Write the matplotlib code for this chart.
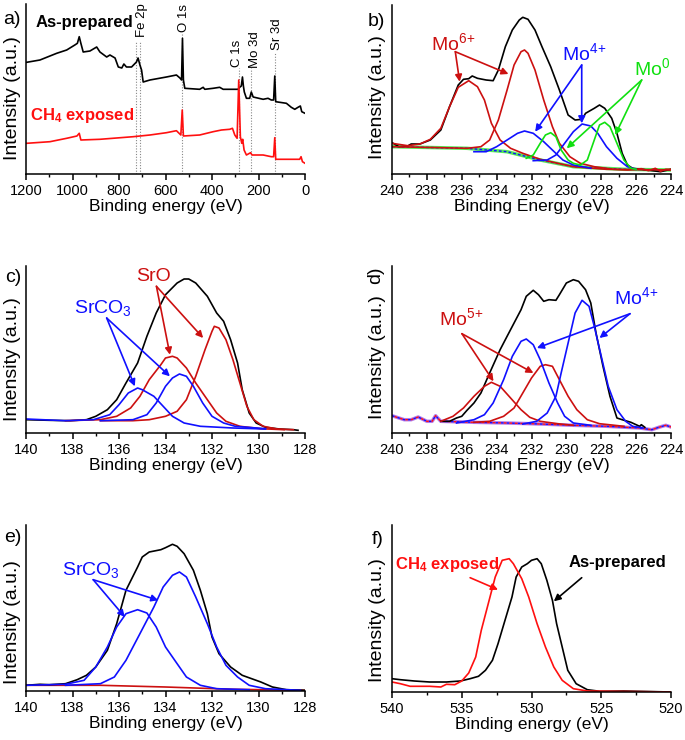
import matplotlib
matplotlib.use("Agg")
import matplotlib.pyplot as plt
from matplotlib.ticker import MultipleLocator

plt.rcParams['font.family'] = ['Liberation Sans', 'DejaVu Sans']
plt.rcParams['mathtext.fontset'] = 'custom'
plt.rcParams['mathtext.rm'] = 'Liberation Sans'
plt.rcParams['mathtext.it'] = 'Liberation Sans:italic'
plt.rcParams['mathtext.bf'] = 'Liberation Sans:bold'
plt.rcParams['mathtext.default'] = 'regular'

# ---------------- DATA ----------------
# a) survey spectra
a_be_black = [1197, 1140, 1068, 1025, 990, 979, 971, 964, 954, 925, 896, 882, 853, 839, 817, 803, 788, 779, 768, 746,
              725, 718, 710, 703, 696, 667, 596, 553, 538, 531, 527, 523, 517, 453, 438, 431, 395, 367, 352, 309, 288,
              281, 274, 269, 265, 261, 252, 238, 231, 223, 180, 159, 145, 135, 130, 126, 80, 59, 44, 30, 20, 14, 0]
a_int_black = [111.7, 114, 120.7, 124, 129, 130.7, 137.3, 130.7, 122, 123, 127, 122, 117, 119, 116, 107, 106, 110, 107, 107,
               112, 116, 109, 104, 92, 94, 97, 99, 96, 94, 135.7, 94, 85.7, 84.7, 86.7, 84.7, 85.7, 86.7, 84.7, 84.7, 84.7,
               86.7, 88, 97, 88, 82, 75.7, 75.7, 82, 77, 74.7, 75.7, 74, 74, 98, 72.3, 70.7, 66.7, 64.7, 66.7, 68, 62.3, 60.7]
a_be_red = [1197, 1097, 1025, 981, 971, 964, 882, 739, 667, 596, 553, 534, 528, 523, 453, 395, 359, 324, 312, 302, 292,
            285, 278, 272, 268, 262, 252, 234, 228, 180, 145, 135, 130, 126, 66, 23, 17, 11, 0]
a_int_red = [30.7, 32.3, 35.7, 38, 40.7, 34, 34.7, 37.3, 39, 41.3, 43.3, 39, 64, 38, 39, 42.3, 44, 44.7, 45.7, 39, 35.7,
             94, 37.3, 30.7, 34.7, 24, 19, 21.3, 19, 19, 17.3, 17.3, 36.3, 14.7, 14.7, 14.7, 17.3, 12.3, 10.7]
a_peak_names = ['Fe 2p', 'O 1s', 'C 1s', 'Mo 3d', 'Sr 3d']
a_peak_label_be = [703, 521, 292, 216, 120]
a_line_be = [725, 710, 527, 284, 231, 130]
a_line_top = [132, 132, 140.7, 105.7, 105.7, 122.3]

# b) Mo 3d, as-prepared
b_be_black = [240, 239.6, 239.1, 238.9, 238.4, 237.8, 237.2, 236.7, 236.2, 235.9, 235.6, 235.4, 235.1, 234.6, 234.2,
              233.9, 233.5, 233.1, 232.7, 232.5, 232.2, 231.8, 231.4, 230.9, 230.4, 229.9, 229.5, 229.1, 228.9, 228.4,
              228.1, 227.8, 227.4, 227.1, 226.8, 226.5, 226.2, 225.4, 224.6, 224]
b_int_black = [31.3, 27.3, 28, 30, 30, 34, 44, 67.3, 89, 94.7, 95.3, 98, 95.7, 94, 93.3,
               104, 127.3, 144, 154, 156.7, 154.7, 144, 127.3, 107.3, 84, 59, 54, 54.7, 60.7, 65.7,
               69, 65.7, 55.7, 40.7, 20.7, 9, 5.7, 4, 2.3, 4.7]
b_be_base = [240, 235.7, 233.4, 231.5, 229.6, 226.7, 224]
b_int_base = [27.3, 25.7, 22.3, 14, 7.3, 4.7, 4]
b_be_mo6a = [240, 239.1, 238.4, 237.8, 237.2, 236.7, 236.2, 235.6, 235.1, 234.7, 234.3, 233.8, 233.2, 232.5, 231.5,
             230.5, 229.6, 227.7, 224]
b_int_mo6a = [30.7, 28.3, 30, 34.7, 45.7, 67.3, 86.7, 93.3, 87.3, 74, 50.7, 34, 25.7, 20.7, 14.7,
              10.7, 7.3, 4.7, 4]
b_be_mo6b = [240, 237.2, 235.7, 234.9, 234.4, 233.9, 233.4, 233.0, 232.6, 232.4, 232.2, 231.8, 231.3, 230.8, 230.4,
             229.8, 229.2, 228.4, 227.3, 226.5, 225.7, 225.3, 224.9, 224.6, 224.3, 224]
b_int_mo6b = [27.3, 26.3, 25.7, 27.3, 34, 54, 84, 109, 122.3, 124, 120.7, 104, 74, 47.3, 30.7,
              17.3, 10.7, 7.3, 4.7, 4, 5.3, 3.3, 5.7, 2.7, 4.7, 4.7]
b_be_mo4a = [235.3, 234.6, 234.0, 233.4, 232.8, 232.4, 231.9, 231.3, 230.7, 230.2, 229.6, 228.6]
b_int_mo4a = [22.3, 22.3, 27.3, 34, 40.7, 43, 40.7, 32.3, 22.3, 14, 9, 5.7]
b_be_mo4b = [231.9, 231.1, 230.6, 230.1, 229.6, 229.1, 228.6, 228.2, 227.7, 227.1, 226.5, 226.0]
b_int_mo4b = [13.3, 14, 19, 30.7, 42.3, 50, 48, 40.7, 27.3, 15.7, 7.3, 4.7]
b_be_mo0a = [232.3, 231.9, 231.5, 231.2, 230.9, 230.6, 230.3, 229.9, 229.6, 229.2]
b_int_mo0a = [15.7, 19, 30.7, 39, 41.3, 37.3, 24, 14, 10.7, 9]
b_be_mo0b = [229.2, 228.8, 228.4, 228.1, 227.8, 227.5, 227.1, 226.7, 226.3, 226.0]
b_int_mo0b = [9, 14, 34, 49, 51.7, 47.3, 30.7, 14, 5.7, 4.7]

# c) Sr 3d, as-prepared
c_be_black = [140, 139, 138.1, 137.4, 137.0, 136.5, 136.1, 135.7, 135.2, 134.8, 134.4, 134.0, 133.5, 133.2, 133.0,
              132.7, 132.2, 131.8, 131.5, 131.2, 130.9, 130.7, 130.4, 130.1, 129.7, 129.1, 128.5, 128.3]
c_int_black = [13.3, 12.7, 12.3, 13.3, 16.7, 23.3, 33.3, 50, 70, 96.7, 120, 138.3, 150, 154, 154,
               150, 136.7, 120, 111.7, 93.3, 70, 43.3, 20, 10, 5.7, 4, 3.3, 2.7]
c_be_sro1 = [136.8, 135.4, 134.7, 134.0, 133.5, 133.1, 132.7, 132.3, 132.0, 131.9, 131.7, 131.4, 131.1, 130.8, 130.5,
             130.2, 129.8, 129.2, 128.5]
c_int_sro1 = [12.3, 12.3, 13.3, 16.7, 21.7, 33.3, 56.7, 83.3, 101.7, 106.7, 105, 93.3, 73.3, 50, 26.7,
              13.3, 6.7, 4, 3.3]
c_be_sro2 = [138.3, 136.8, 136.1, 135.5, 135.1, 134.7, 134.2, 134.0, 133.7, 133.5, 133.1, 132.7, 132.2, 131.8, 131.4,
             130.8, 129.9, 128.9]
c_int_sro2 = [12.3, 13.3, 16.7, 25, 36.7, 53.3, 68.3, 75, 76.7, 75, 65, 50, 33.3, 20, 11.7,
              6.7, 4.3, 3.3]
c_be_co1 = [140, 138.3, 137.1, 136.4, 136.0, 135.6, 135.2, 135.0, 134.5, 134.1, 133.7, 133.2, 132.5, 131.1, 129.7]
c_int_co1 = [14, 12.3, 13.3, 18.3, 28.3, 40, 45, 43.3, 36.7, 26.7, 16.7, 10, 6.7, 5, 4]
c_be_co2 = [136.8, 135.4, 134.8, 134.4, 134.0, 133.7, 133.4, 133.1, 132.8, 132.4, 132.0, 131.5, 131.0, 129.7]
c_int_co2 = [12.3, 13.3, 18.3, 30, 46.7, 55, 59, 56.7, 46.7, 30, 16.7, 10, 6.7, 4.3]

# d) Mo 3d, CH4 exposed
d_be_black = [237.2, 236.7, 236.3, 236.0, 235.7, 235.3, 234.9, 234.4, 233.8, 233.4, 233.0, 232.6, 232.3, 231.9, 231.6,
              231.3, 231.0, 230.6, 230.4, 230.0, 229.6, 229.3, 228.9, 228.6, 228.3, 227.9, 227.5, 227.1, 226.8, 226.3,
              225.8, 225.7, 225.5]
d_int_black = [11.7, 11.7, 15, 16.7, 22.7, 30, 40, 60, 83.3, 96.7, 110, 123.3, 136.7, 142.7, 138.3,
               131.7, 133.3, 132.7, 138.3, 150, 153.3, 151.7, 143.3, 130, 100, 66.7, 36.7, 15, 13.3, 10.7,
               6.7, 8.3, 5.7]
d_be_base = [240, 239.6, 239.3, 238.9, 238.5, 238.0, 237.7, 237.5, 237.2, 235.3, 233.4, 231.5, 229.6, 227.7, 225.8,
             225.1, 224.7, 224.3, 224]
d_int_base = [17.3, 15, 13.3, 13.3, 16, 11.7, 11.7, 17.3, 11.7, 10.7, 10, 9, 7.7, 6.7, 5,
              3.3, 5.7, 7.7, 6]
d_be_mo5a = [237.2, 236.5, 235.9, 235.3, 234.7, 234.3, 233.8, 233.2, 232.6, 232.1, 231.5, 230.5, 229.6]
d_int_mo5a = [11.7, 16.7, 25, 36.7, 46.7, 50.7, 46.7, 35, 23.3, 15.7, 11.7, 9.3, 7.7]
d_be_mo5b = [235.3, 234.4, 233.6, 233.0, 232.5, 232.0, 231.5, 231.2, 230.8, 230.4, 229.9, 229.4, 228.8, 228.1, 226.7]
d_int_mo5b = [10.7, 11.7, 16.7, 25, 40, 55, 66.7, 68.3, 66.7, 53.3, 36.7, 23.3, 13.3, 9.3, 6.7]
d_be_mo4a = [236.3, 235.3, 234.7, 234.2, 233.6, 233.1, 232.6, 232.3, 231.9, 231.5, 231.0, 230.5, 230.1, 229.6, 228.6]
d_int_mo4a = [10, 13.3, 18.3, 30, 53.3, 76.7, 91.7, 94, 88.3, 73.3, 50, 30, 16.7, 10, 7.7]
d_be_mo4b = [232.5, 231.7, 231.1, 230.6, 230.3, 229.9, 229.5, 229.1, 228.7, 228.4, 228.0, 227.6, 227.1, 226.6, 226.2,
             225.6]
d_int_mo4b = [9, 11.7, 20, 36.7, 60, 90, 120, 132.7, 126.7, 106.7, 76.7, 46.7, 23.3, 11.7, 6.7, 5]

# e) Sr 3d, CH4 exposed
e_be_black = [140, 139.4, 139.0, 138.3, 137.8, 137.4, 137.0, 136.5, 136.1, 135.7, 135.2, 135.0, 134.7, 134.2, 134.0,
              133.7, 133.5, 133.2, 132.8, 132.5, 132.2, 132.0, 131.7, 131.2, 130.7, 129.9, 129.4, 128.8, 128]
e_int_black = [5.7, 6.7, 6.3, 7.3, 11.3, 15.7, 24, 40.7, 67.3, 100.7, 124, 134, 139, 141.3, 143.3,
               146.7, 144.7, 137.3, 120.7, 100.7, 77.3, 54, 37.3, 24, 15.7, 9, 4, 1.3, 0.7]
e_be_base = [140, 136.8, 134.0, 131.1, 128]
e_int_base = [5.7, 5.7, 4, 1.7, 0.7]
e_be_co1 = [140, 138.3, 137.5, 137.0, 136.5, 136.1, 135.7, 135.2, 134.8, 134.4, 134.0, 133.5, 133.1, 132.5, 131.8, 130.4]
e_int_co1 = [5.7, 6.7, 10.7, 24, 44, 64, 77.3, 81.3, 78, 64, 44, 27.3, 14, 5.7, 2.3, 1.3]
e_be_co2 = [138.3, 136.8, 136.2, 135.7, 135.1, 134.5, 134.1, 133.7, 133.4, 133.1, 132.7, 132.2, 131.8, 131.4, 130.9,
            130.4, 129.7, 128.2]
e_int_co2 = [5.7, 7.3, 14, 30.7, 57.3, 84, 104, 115.7, 119, 114, 94, 67.3, 44, 25.7, 14,
             5.7, 2.3, 0.7]

# f) O 1s
f_be_asprep = [540, 539.4, 538.4, 537.3, 536.1, 535.1, 534.4, 533.8, 533.3, 532.8, 532.4, 531.9, 531.4, 531.1, 530.7,
               530.3, 530.0, 529.6, 529.3, 528.9, 528.5, 528.2, 527.8, 527.4, 526.8, 526.0, 525.1, 523.4, 520]
f_int_asprep = [13.3, 12.3, 11, 10, 10, 11, 13.3, 15.7, 21.7, 31.7, 48.3, 71.7, 95, 115, 125,
                128.3, 131.7, 133.3, 128.3, 111.7, 91.7, 68.3, 45, 21.7, 8.3, 2.3, 0.7, 1, 0]
f_be_ch4 = [540, 539.4, 538.7, 538.0, 537.3, 536.5, 536.1, 535.5, 535.0, 534.5, 534.0, 533.6, 533.1, 532.6, 532.1,
            531.6, 531.3, 530.7, 530.2, 529.6, 529.0, 528.4, 527.8, 527.0, 526.0, 520]
f_int_ch4 = [10, 8.3, 5.7, 5.7, 5.7, 5, 7.7, 7.3, 11, 19, 35, 61.7, 88.3, 115, 131.7,
             133.3, 128.3, 113.3, 95, 68.3, 45, 25, 11.7, 3.3, 1, 0]

# ---------------- STYLE ----------------
BLACK = 'black'
RED = '#FF1010'
DRED = '#CC1010'
BLUE = '#1010FF'
GREEN = '#10E010'
PURPLE = '#B57AE8'
LW = 1.2

W, H = 685, 740
fig = plt.figure(figsize=(W / 100, H / 100), dpi=100)


def add_ax(l, t, r, b):
    return fig.add_axes([l / W, 1 - b / H, (r - l) / W, (b - t) / H])


def style(ax, xlim, major, minor, xlabel, ylim):
    ax.set_xlim(*xlim)
    ax.set_ylim(*ylim)
    ax.xaxis.set_major_locator(MultipleLocator(major))
    ax.xaxis.set_minor_locator(MultipleLocator(minor))
    ax.set_yticks([])
    for s in ['top', 'right']:
        ax.spines[s].set_visible(False)
    for s in ['left', 'bottom']:
        ax.spines[s].set_linewidth(1.1)
    ax.tick_params(axis='x', which='major', direction='out', length=4, width=1.1, labelsize=10.5, pad=3)
    ax.tick_params(axis='x', which='minor', direction='out', length=2.5, width=1.0)
    ax.set_xlabel(xlabel, fontsize=12.5, labelpad=1)
    ax.patch.set_alpha(0)


def ylabel(x, y):
    fig.text(x / W, 1 - y / H, 'Intensity (a.u.)', rotation=90, ha='center', va='center', fontsize=14)


def plabel(x, y, s, rot=0):
    fig.text(x / W, 1 - y / H, s, ha='center', va='center', fontsize=14, rotation=rot)


def arrow(ax, start, end, color):
    ax.annotate('', xy=end, xytext=start,
                arrowprops=dict(arrowstyle='-|>', color=color, lw=1.2, mutation_scale=10,
                                shrinkA=0, shrinkB=0))


# ---- a ----
ax = add_ax(26, 4, 305, 174)
for be, top in zip(a_line_be, a_line_top):
    ax.vlines(be, 0, top, colors='#888888', linestyles=(0, (1, 1.5)), lw=0.8)
ax.plot(a_be_black, a_int_black, color=BLACK, lw=LW)
ax.plot(a_be_red, a_int_red, color=RED, lw=LW)
a_label_bottom = [137.3, 142.3, 107.3, 105.7, 124]
for name, be, yb in zip(a_peak_names, a_peak_label_be, a_label_bottom):
    ax.text(be, yb, name, rotation=90, ha='center', va='bottom', fontsize=9.5)
ax.text(1157, 151.7, 'As-prepared', ha='left', va='center', fontsize=12, fontweight='bold', color=BLACK)
ax.text(1183, 58.3, r'CH$_\mathbf{4}$ exposed', ha='left', va='center', fontsize=12, fontweight='bold', color=RED)
style(ax, (1200, 0), 200, 100, 'Binding energy (eV)', (0, 170))
ylabel(13, 98)
plabel(12, 20, 'a)')

# ---- b ----
ax = add_ax(392, 5, 671, 174)
ax.plot(b_be_base, b_int_base, color=GREEN, lw=2.5, alpha=0.7)
ax.plot(b_be_base, b_int_base, color=BLUE, lw=1.0, ls=(0, (2, 1.5)))
ax.plot(b_be_black, b_int_black, color=BLACK, lw=LW)
ax.plot(b_be_mo6a, b_int_mo6a, color=DRED, lw=LW)
ax.plot(b_be_mo6b, b_int_mo6b, color=DRED, lw=LW)
ax.plot(b_be_mo4a, b_int_mo4a, color=BLUE, lw=LW)
ax.plot(b_be_mo4b, b_int_mo4b, color=BLUE, lw=LW)
ax.plot(b_be_mo0a, b_int_mo0a, color=GREEN, lw=LW)
ax.plot(b_be_mo0b, b_int_mo0b, color=GREEN, lw=LW)
ax.text(236.5, 131, r'Mo$^{6\!+}$', color=DRED, ha='center', va='center', fontsize=14)
arrow(ax, (236.37, 122.3), (236.12, 92.3), DRED)
arrow(ax, (236.37, 122.3), (233.32, 100), DRED)
ax.text(228.96, 121, r'Mo$^{4\!+}$', color=BLUE, ha='center', va='center', fontsize=14)
arrow(ax, (229.12, 109), (231.79, 42.3), BLUE)
arrow(ax, (229.12, 109), (229.12, 50.7), BLUE)
ax.text(225.1, 106, r'Mo$^{0}$', color=GREEN, ha='center', va='center', fontsize=14)
arrow(ax, (225.68, 94), (229.98, 25.7), GREEN)
arrow(ax, (225.68, 94), (227.2, 39), GREEN)
style(ax, (240, 224), 2, 1, 'Binding Energy (eV)', (0, 169))
ylabel(377, 97)
plabel(376, 21, 'b)')

# ---- c ----
ax = add_ax(26, 266, 305, 433)
ax.plot(c_be_black, c_int_black, color=BLACK, lw=LW)
ax.plot(c_be_sro1, c_int_sro1, color=DRED, lw=LW)
ax.plot(c_be_sro2, c_int_sro2, color=DRED, lw=LW)
ax.plot(c_be_co1, c_int_co1, color=BLUE, lw=LW)
ax.plot(c_be_co2, c_int_co2, color=BLUE, lw=LW)
ax.text(134.53, 156.7, 'SrO', color=DRED, ha='center', va='center', fontsize=14)
arrow(ax, (134.39, 146.7), (133.81, 78.3), DRED)
arrow(ax, (134.39, 146.7), (132.38, 95), DRED)
ax.text(136.68, 125, r'SrCO$_3$', color=BLUE, ha='center', va='center', fontsize=14)
arrow(ax, (136.53, 115), (135.32, 46.7), BLUE)
arrow(ax, (136.53, 115), (133.81, 56.7), BLUE)
style(ax, (140, 128), 2, 1, 'Binding energy (eV)', (0, 167))
ylabel(13, 359)
plabel(13, 278, 'c)')

# ---- d ----
ax = add_ax(392, 266, 671, 433)
ax.plot(d_be_base, d_int_base, color=PURPLE, lw=2.5)
ax.plot(d_be_base, d_int_base, color=BLUE, lw=1.0, ls=(0, (2, 2)))
ax.plot(d_be_base, d_int_base, color=RED, lw=1.0, ls=(2, (2, 2)))
ax.plot(d_be_black, d_int_black, color=BLACK, lw=LW)
ax.plot(d_be_mo5a, d_int_mo5a, color=DRED, lw=LW)
ax.plot(d_be_mo5b, d_int_mo5b, color=DRED, lw=LW)
ax.plot(d_be_mo4a, d_int_mo4a, color=BLUE, lw=LW)
ax.plot(d_be_mo4b, d_int_mo4b, color=BLUE, lw=LW)
ax.text(236.05, 115, r'Mo$^{5\!+}$', color=DRED, ha='center', va='center', fontsize=14)
arrow(ax, (235.99, 99.3), (234.18, 51.7), DRED)
arrow(ax, (235.99, 99.3), (231.89, 60), DRED)
ax.text(225.97, 136, r'Mo$^{4\!+}$', color=BLUE, ha='center', va='center', fontsize=14)
arrow(ax, (226.35, 119.3), (231.69, 85), BLUE)
arrow(ax, (226.35, 119.3), (228.1, 95), BLUE)
style(ax, (240, 224), 2, 1, 'Binding Energy (eV)', (0, 167))
ylabel(377, 357)
plabel(376, 275, 'd)', rot=90)

# ---- e ----
ax = add_ax(26, 525, 305, 691)
ax.plot(e_be_base, e_int_base, color=DRED, lw=LW)
ax.plot(e_be_black, e_int_black, color=BLACK, lw=LW)
ax.plot(e_be_co1, e_int_co1, color=BLUE, lw=LW)
ax.plot(e_be_co2, e_int_co2, color=BLUE, lw=LW)
ax.text(137.22, 120.7, r'SrCO$_3$', color=BLUE, ha='center', va='center', fontsize=14)
arrow(ax, (137.11, 111.3), (135.75, 74), BLUE)
arrow(ax, (137.11, 111.3), (134.31, 90.7), BLUE)
style(ax, (140, 128), 2, 1, 'Binding energy (eV)', (0, 166))
ylabel(13, 622)
plabel(13, 538, 'e)')

# ---- f ----
ax = add_ax(392, 525, 671, 692)
ax.plot(f_be_asprep, f_int_asprep, color=BLACK, lw=LW)
ax.plot(f_be_ch4, f_int_ch4, color=RED, lw=LW)
ax.text(536.06, 127.7, r'CH$_\mathbf{4}$ exposed', color=RED, ha='center', va='center', fontsize=12,
        fontweight='bold')
arrow(ax, (534.4, 114.3), (532.4, 102.3), RED)
ax.text(523.84, 130, 'As-prepared', color=BLACK, ha='center', va='center', fontsize=12, fontweight='bold')
arrow(ax, (526.4, 114.3), (528.4, 90.7), BLACK)
style(ax, (540, 520), 5, 2.5, 'Binding energy (eV)', (0, 167))
ylabel(377, 620)
plabel(378, 539, 'f)')

fig.savefig('out.png', dpi=100)
